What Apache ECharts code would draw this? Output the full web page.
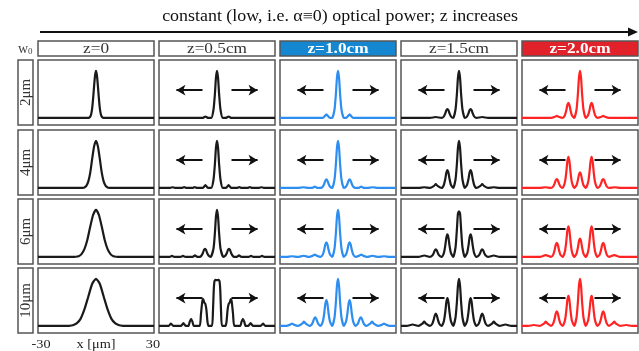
<!DOCTYPE html>
<html><head><meta charset="utf-8">
<script src="https://cdn.jsdelivr.net/npm/echarts@6/dist/echarts.min.js"></script>
<style>html,body{margin:0;padding:0;background:#fff}#c{width:639px;height:351px}</style>
</head><body><div id="c"></div>
<script>
const titleText = 'constant (low, i.e. α≡0) optical power; z increases';
const columnLabels = ['z=0', 'z=0.5cm', 'z=1.0cm', 'z=1.5cm', 'z=2.0cm'];
const rowLabels = ['2μm', '4μm', '6μm', '10μm'];
const xTickLabels = ['-30', 'x [μm]', '30'];
const xRange = [-30, 30];

// z = 0
const z0_w2 = [[-30,0],[-4,0],[-3.5,.007],[-3,.027],[-2.5,.08],[-2,.2],[-1.5,.41],[-1,.67],[-0.5,.9],[0,1],[0.5,.9],[1,.67],[1.5,.41],[2,.2],[2.5,.08],[3,.027],[3.5,.007],[4,0],[30,0]];
const z0_w4 = [[-30,0],[-8,0],[-7,.002],[-6,.011],[-5,.044],[-4,.135],[-3,.32],[-2,.61],[-1,.88],[0,1],[1,.88],[2,.61],[3,.32],[4,.135],[5,.044],[6,.011],[7,.002],[8,0],[30,0]];
const z0_w6 = [[-30,0],[-12,0],[-10.5,.004],[-9,.017],[-7.5,.06],[-6,.165],[-4.5,.36],[-3,.64],[-1.5,.89],[0,1],[1.5,.89],[3,.64],[4.5,.36],[6,.165],[7.5,.06],[9,.017],[10.5,.004],[12,0],[30,0]];
const z0_w10 = [[-30,0],[-16,0],[-14,.003],[-12,.014],[-10,.053],[-8,.15],[-6,.35],[-4,.62],[-2,.89],[0,1],[2,.89],[4,.62],[6,.35],[8,.15],[10,.053],[12,.014],[14,.003],[16,0],[30,0]];

// z = 0.5 cm
const z05_w2 = [[-30,0],[-7.5,0],[-6,.03],[-4.5,0],[-3,0],[-1.8,.18],[-1.1,.5],[-0.55,.85],[0,1],[0.55,.85],[1.1,.5],[1.8,.18],[3,0],[4.5,0],[6,.03],[7.5,0],[30,0]];
const z05_w4 = [[-30,0],[-24.2,0],[-23,.015],[-21.8,0],[-18.2,0],[-17,.02],[-15.8,0],[-12.7,0],[-11.5,.02],[-10.3,0],[-7.3,0],[-6,.06],[-4.7,0],[-3,0],[-1.8,.18],[-1.1,.5],[-0.55,.85],[0,1],[0.55,.85],[1.1,.5],[1.8,.18],[3,0],[4.7,0],[6,.06],[7.3,0],[10.3,0],[11.5,.02],[12.7,0],[15.8,0],[17,.02],[18.2,0],[21.8,0],[23,.015],[24.2,0],[30,0]];
const z05_w6 = [[-30,0],[-24.5,0],[-23.3,.025],[-22.1,0],[-18.8,0],[-17.6,.025],[-16.4,0],[-12.6,0],[-11.4,.035],[-10.2,0],[-8.9,0],[-8,.03],[-7.3,.085],[-6.75,.145],[-6.2,.17],[-5.65,.145],[-5.1,.085],[-4.4,.03],[-3.3,0],[-1.8,.18],[-1.1,.5],[-0.55,.85],[0,1],[0.55,.85],[1.1,.5],[1.8,.18],[3.3,0],[4.4,.03],[5.1,.085],[5.65,.145],[6.2,.17],[6.75,.145],[7.3,.085],[8,.03],[8.9,0],[10.2,0],[11.4,.035],[12.6,0],[16.4,0],[17.6,.025],[18.8,0],[22.1,0],[23.3,.025],[24.5,0],[30,0]];
const z05_w10 = [[-30,0],[-25,0],[-23.8,.05],[-22.6,0],[-18.6,0],[-17.4,.06],[-16.2,0],[-14.8,0],[-14.1,.09],[-13.4,.15],[-12.7,.09],[-12,0],[-9,0],[-8.3,.25],[-7.6,.52],[-7.1,.57],[-6.6,.5],[-6,.46],[-5.5,.35],[-4.9,.08],[-4.4,0],[-2.6,0],[-2.1,.3],[-1.7,.75],[-1.3,.95],[-0.8,.98],[0,.97],[0.8,.98],[1.3,.95],[1.7,.75],[2.1,.3],[2.6,0],[4.4,0],[4.9,.08],[5.5,.35],[6,.46],[6.6,.5],[7.1,.57],[7.6,.52],[8.3,.25],[9,0],[12,0],[12.7,.09],[13.4,.15],[14.1,.09],[14.8,0],[16.2,0],[17.4,.06],[18.6,0],[22.6,0],[23.8,.05],[25,0],[30,0]];

// z = 1.0 cm
const z10_w2 = [[-30,0],[-7.8,0],[-6.8,.04],[-6,.075],[-5.2,.04],[-4.2,0],[-3,0],[-1.8,.18],[-1.1,.5],[-0.55,.85],[0,1],[0.55,.85],[1.1,.5],[1.8,.18],[3,0],[4.2,0],[5.2,.04],[6,.075],[6.8,.04],[7.8,0],[30,0]];
const z10_w4 = [[-30,0],[-20.8,0],[-18,.015],[-15,0],[-13.2,0],[-12,.03],[-10.8,0],[-9,0],[-7.8,.032],[-7.1,.09],[-6.55,.153],[-6,.18],[-5.45,.153],[-4.9,.09],[-4.2,.032],[-3,0],[-1.8,.18],[-1.1,.5],[-0.55,.85],[0,1],[0.55,.85],[1.1,.5],[1.8,.18],[3,0],[4.2,.032],[4.9,.09],[5.45,.153],[6,.18],[6.55,.153],[7.1,.09],[7.8,.032],[9,0],[10.8,0],[12,.03],[13.2,0],[15,0],[18,.015],[20.8,0],[30,0]];
const z10_w6 = [[-30,0],[-26.8,0],[-23.8,.015],[-20.8,0],[-17.8,.025],[-15,0],[-12.9,.028],[-12,.05],[-11.1,.028],[-9,0],[-7.8,.056],[-7.1,.155],[-6.55,.264],[-6,.31],[-5.45,.264],[-4.9,.155],[-4.2,.056],[-3,0],[-1.8,.18],[-1.1,.5],[-0.55,.85],[0,1],[0.55,.85],[1.1,.5],[1.8,.18],[3,0],[4.2,.056],[4.9,.155],[5.45,.264],[6,.31],[6.55,.264],[7.1,.155],[7.8,.056],[9,0],[11.1,.028],[12,.05],[12.9,.028],[15,0],[17.8,.025],[20.8,0],[23.8,.015],[26.8,0],[30,0]];
const z10_w10 = [[-30,0],[-26.8,0],[-24.7,.028],[-23.8,.05],[-22.9,.028],[-20.7,0],[-18.5,.05],[-17.6,.09],[-16.7,.05],[-14.8,0],[-13.6,.032],[-12.9,.09],[-12.35,.153],[-11.8,.18],[-11.25,.153],[-10.7,.09],[-10,.032],[-9,0],[-7.8,.099],[-7.1,.275],[-6.55,.468],[-6,.55],[-5.45,.468],[-4.9,.275],[-4.2,.099],[-3,0],[-1.8,.18],[-1.1,.5],[-0.55,.85],[0,1],[0.55,.85],[1.1,.5],[1.8,.18],[3,0],[4.2,.099],[4.9,.275],[5.45,.468],[6,.55],[6.55,.468],[7.1,.275],[7.8,.099],[9,0],[10,.032],[10.7,.09],[11.25,.153],[11.8,.18],[12.35,.153],[12.9,.09],[13.6,.032],[14.8,0],[16.7,.05],[17.6,.09],[18.5,.05],[20.7,0],[22.9,.028],[23.8,.05],[24.7,.028],[26.8,0],[30,0]];

// z = 1.5 cm
const z15_w2 = [[-30,0],[-15,0],[-12,.02],[-9,0],[-7.8,.034],[-7.1,.095],[-6.55,.162],[-6,.19],[-5.45,.162],[-4.9,.095],[-4.2,.034],[-3,0],[-1.8,.18],[-1.1,.5],[-0.55,.85],[0,1],[0.55,.85],[1.1,.5],[1.8,.18],[3,0],[4.2,.034],[4.9,.095],[5.45,.162],[6,.19],[6.55,.162],[7.1,.095],[7.8,.034],[9,0],[12,.02],[15,0],[30,0]];
const z15_w4 = [[-30,0],[-21,0],[-18,.015],[-15,0],[-12.9,.044],[-12,.08],[-11.1,.044],[-9,0],[-7.8,.068],[-7.1,.19],[-6.55,.323],[-6,.38],[-5.45,.323],[-4.9,.19],[-4.2,.068],[-3,0],[-1.8,.18],[-1.1,.5],[-0.55,.85],[0,1],[0.55,.85],[1.1,.5],[1.8,.18],[3,0],[4.2,.068],[4.9,.19],[5.45,.323],[6,.38],[6.55,.323],[7.1,.19],[7.8,.068],[9,0],[11.1,.044],[12,.08],[12.9,.044],[15,0],[18,.015],[21,0],[30,0]];
const z15_w6 = [[-30,0],[-21,0],[-18,.03],[-15,0],[-13.8,.029],[-13.1,.08],[-12.55,.136],[-12,.16],[-11.45,.136],[-10.9,.08],[-10.2,.029],[-9,0],[-7.8,.086],[-7.1,.24],[-6.55,.408],[-6,.48],[-5.45,.408],[-4.9,.24],[-4.2,.086],[-3,0],[-1.8,.2],[-1.1,.58],[-0.55,.92],[0,.97],[0.55,.92],[1.1,.58],[1.8,.2],[3,0],[4.2,.086],[4.9,.24],[5.45,.408],[6,.48],[6.55,.408],[7.1,.24],[7.8,.086],[9,0],[10.2,.029],[10.9,.08],[11.45,.136],[12,.16],[12.55,.136],[13.1,.08],[13.8,.029],[15,0],[18,.03],[21,0],[30,0]];
const z15_w10 = [[-30,0],[-27,0],[-24,.03],[-21,0],[-18.9,.05],[-18,.09],[-17.1,.05],[-15,0],[-13.8,.047],[-13.1,.13],[-12.55,.221],[-12,.26],[-11.45,.221],[-10.9,.13],[-10.2,.047],[-9,0],[-7.8,.106],[-7.1,.295],[-6.55,.502],[-6,.59],[-5.45,.502],[-4.9,.295],[-4.2,.106],[-3,0],[-1.8,.18],[-1.1,.5],[-0.55,.85],[0,1],[0.55,.85],[1.1,.5],[1.8,.18],[3,0],[4.2,.106],[4.9,.295],[5.45,.502],[6,.59],[6.55,.502],[7.1,.295],[7.8,.106],[9,0],[10.2,.047],[10.9,.13],[11.45,.221],[12,.26],[12.55,.221],[13.1,.13],[13.8,.047],[15,0],[17.1,.05],[18,.09],[18.9,.05],[21,0],[24,.03],[27,0],[30,0]];

// z = 2.0 cm
const z20_w2 = [[-30,0],[-15,0],[-12.9,.025],[-12,.045],[-11.1,.025],[-9,0],[-7.8,.058],[-7.1,.16],[-6.55,.272],[-6,.32],[-5.45,.272],[-4.9,.16],[-4.2,.058],[-3,0],[-1.8,.18],[-1.1,.5],[-0.55,.85],[0,1],[0.55,.85],[1.1,.5],[1.8,.18],[3,0],[4.2,.058],[4.9,.16],[5.45,.272],[6,.32],[6.55,.272],[7.1,.16],[7.8,.058],[9,0],[11.1,.025],[12,.045],[12.9,.025],[15,0],[30,0]];
const z20_w4 = [[-30,0],[-21,0],[-18,.015],[-15,0],[-13.8,.034],[-13.1,.095],[-12.55,.162],[-12,.19],[-11.45,.162],[-10.9,.095],[-10.2,.034],[-9,0],[-7.8,.119],[-7.1,.33],[-6.55,.561],[-6,.66],[-5.45,.561],[-4.9,.33],[-4.2,.119],[-3,0],[-1.8,.059],[-1.1,.165],[-0.55,.28],[0,.33],[0.55,.28],[1.1,.165],[1.8,.059],[3,0],[4.2,.119],[4.9,.33],[5.45,.561],[6,.66],[6.55,.561],[7.1,.33],[7.8,.119],[9,0],[10.2,.034],[10.9,.095],[11.45,.162],[12,.19],[12.55,.162],[13.1,.095],[13.8,.034],[15,0],[18,.015],[21,0],[30,0]];
const z20_w6 = [[-30,0],[-20.7,0],[-17.7,.04],[-15,0],[-13.8,.054],[-13.1,.15],[-12.55,.255],[-12,.3],[-11.45,.255],[-10.9,.15],[-10.2,.054],[-9,0],[-7.8,.117],[-7.1,.325],[-6.55,.553],[-6,.65],[-5.45,.553],[-4.9,.325],[-4.2,.117],[-3,0],[-1.8,.07],[-1.1,.195],[-0.55,.332],[0,.39],[0.55,.332],[1.1,.195],[1.8,.07],[3,0],[4.2,.117],[4.9,.325],[5.45,.553],[6,.65],[6.55,.553],[7.1,.325],[7.8,.117],[9,0],[10.2,.054],[10.9,.15],[11.45,.255],[12,.3],[12.55,.255],[13.1,.15],[13.8,.054],[15,0],[17.7,.04],[20.7,0],[30,0]];
const z20_w10 = [[-30,0],[-26.8,0],[-23.8,.02],[-20.7,0],[-18.6,.05],[-17.7,.09],[-16.8,.05],[-15,0],[-13.8,.056],[-13.1,.155],[-12.55,.264],[-12,.31],[-11.45,.264],[-10.9,.155],[-10.2,.056],[-9,0],[-7.8,.115],[-7.1,.32],[-6.55,.544],[-6,.64],[-5.45,.544],[-4.9,.32],[-4.2,.115],[-3,0],[-1.8,.18],[-1.1,.5],[-0.55,.85],[0,1],[0.55,.85],[1.1,.5],[1.8,.18],[3,0],[4.2,.115],[4.9,.32],[5.45,.544],[6,.64],[6.55,.544],[7.1,.32],[7.8,.115],[9,0],[10.2,.056],[10.9,.155],[11.45,.264],[12,.31],[12.55,.264],[13.1,.155],[13.8,.056],[15,0],[16.8,.05],[17.7,.09],[18.6,.05],[20.7,0],[23.8,.02],[26.8,0],[30,0]];

const curves = [
  [z0_w2, z05_w2, z10_w2, z15_w2, z20_w2],
  [z0_w4, z05_w4, z10_w4, z15_w4, z20_w4],
  [z0_w6, z05_w6, z10_w6, z15_w6, z20_w6],
  [z0_w10, z05_w10, z10_w10, z15_w10, z20_w10]
];

// layout / style (not data)
const colLeft = [38, 159, 280, 401, 522];
const panelW = 116;
const rowTop = [60, 130, 199, 268];
const panelH = 65;
const headerTop = 41, headerH = 15;
const lineColors = ['#1a1a1a', '#1a1a1a', '#2e8ef0', '#1a1a1a', '#ff2323'];
const headerFill = ['#fff', '#fff', '#1487d0', '#fff', '#e1222b'];
const arrowY = 0.59;
const arrowSpans = [[-7.5, -21], [7.5, 21]];
const SERIF = '"Liberation Serif", "DejaVu Serif", serif';

const grids = [], xAxes = [], yAxes = [], series = [];
let k = 0;
for (let r = 0; r < 4; r++) {
  for (let c = 0; c < 5; c++) {
    grids.push({left: colLeft[c], top: rowTop[r], width: panelW, height: panelH,
      show: true, borderColor: '#555', borderWidth: 1.5, backgroundColor: '#fff', containLabel: false});
    xAxes.push({type: 'value', gridIndex: k, min: xRange[0], max: xRange[1], show: false});
    yAxes.push({type: 'value', gridIndex: k, min: -0.15, max: 1.23, show: false});
    const s = {type: 'line', xAxisIndex: k, yAxisIndex: k, data: curves[r][c], symbol: 'none', showSymbol: false,
      smooth: 0.2, silent: true, clip: true,
      lineStyle: {color: lineColors[c], width: 2.2}};
    if (c > 0) {
      s.markLine = {silent: true, symbol: ['none', 'arrow'], symbolSize: [8, 9], animation: false,
        label: {show: false}, emphasis: {disabled: true},
        lineStyle: {color: '#111', width: 2, type: 'solid'},
        data: arrowSpans.map(a => [{coord: [a[0], arrowY]}, {coord: [a[1], arrowY]}])};
    }
    series.push(s);
    k++;
  }
}

const graphic = [];
graphic.push({type: 'text', x: 340, y: 17, scaleX: 1.12,
  style: {text: titleText, font: '16px ' + SERIF, fill: '#111', align: 'center', verticalAlign: 'middle'}});
graphic.push({type: 'line', shape: {x1: 40, y1: 32, x2: 630, y2: 32}, style: {stroke: '#111', lineWidth: 1.8}});
graphic.push({type: 'polygon', shape: {points: [[638, 32], [628, 27.5], [628, 36.5]]}, style: {fill: '#111'}});
graphic.push({type: 'text', x: 18, y: 49,
  style: {text: '{a|w}{b|0}', align: 'left', verticalAlign: 'middle',
    rich: {a: {font: '14px ' + SERIF, fill: '#444'}, b: {font: '9px ' + SERIF, fill: '#444', padding: [6, 0, 0, 0]}}}});
for (let c = 0; c < 5; c++) {
  const colored = headerFill[c] !== '#fff';
  graphic.push({type: 'rect', shape: {x: colLeft[c], y: headerTop, width: panelW, height: headerH},
    style: {fill: headerFill[c], stroke: '#555', lineWidth: 1.5}});
  graphic.push({type: 'text', x: colLeft[c] + panelW / 2, y: headerTop + headerH / 2 + 0.5, scaleX: 1.15,
    style: {text: columnLabels[c], font: (colored ? 'bold ' : '') + '15px ' + SERIF,
      fill: colored ? '#fff' : '#333', align: 'center', verticalAlign: 'middle'}});
}
for (let r = 0; r < 4; r++) {
  graphic.push({type: 'rect', shape: {x: 18, y: rowTop[r], width: 15, height: panelH},
    style: {fill: '#fff', stroke: '#555', lineWidth: 1.5}});
  graphic.push({type: 'text', x: 26, y: rowTop[r] + panelH / 2, rotation: Math.PI / 2,
    style: {text: rowLabels[r], font: '15px ' + SERIF, fill: '#333', align: 'center', verticalAlign: 'middle'}});
}
const xLabelPos = [41, 96, 153];
for (let i = 0; i < 3; i++) {
  graphic.push({type: 'text', x: xLabelPos[i], y: 345, scaleX: 1.1,
    style: {text: xTickLabels[i], font: '13px ' + SERIF, fill: '#222', align: 'center', verticalAlign: 'middle'}});
}

const chart = echarts.init(document.getElementById('c'), null, {renderer: 'canvas'});
chart.setOption({
  animation: false,
  backgroundColor: '#fff',
  grid: grids, xAxis: xAxes, yAxis: yAxes, series: series,
  graphic: {elements: graphic}
});
</script></body></html>
